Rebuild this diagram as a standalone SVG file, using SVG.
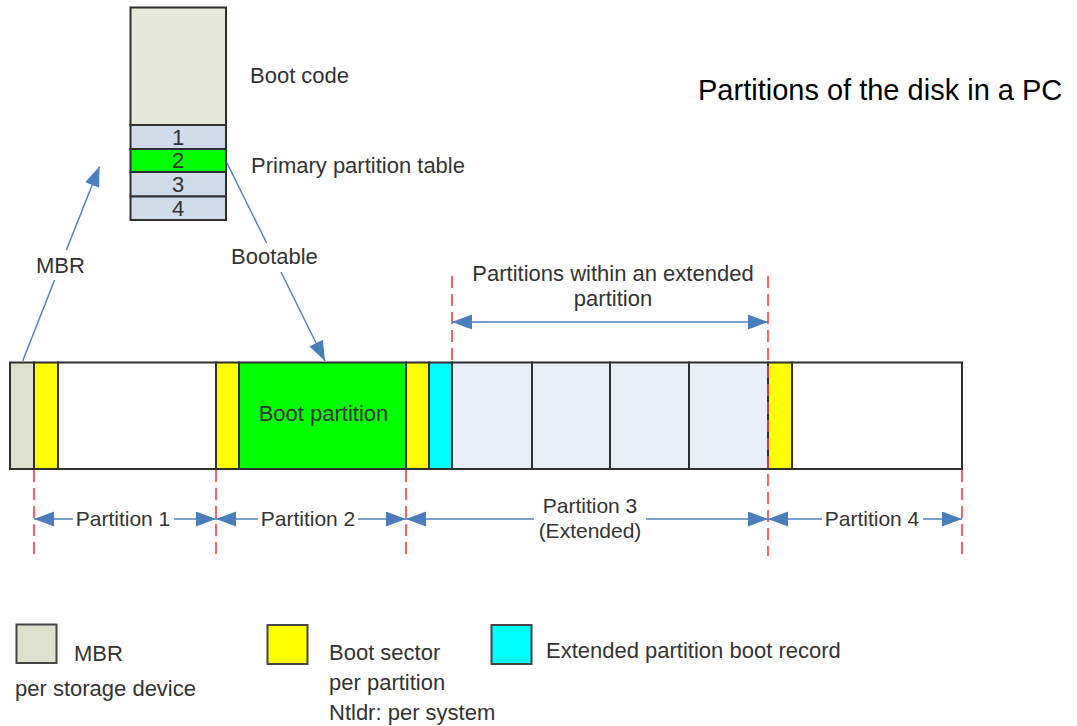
<svg xmlns="http://www.w3.org/2000/svg" width="1077" height="726" viewBox="0 0 1077 726">
<style>
text{font-family:"Liberation Sans",Arial,sans-serif;fill:#333;font-size:22px}
.t{font-size:29px;fill:#000}
.p{font-size:21px}
.c{text-anchor:middle}
.seg{stroke:#2f2f2f;stroke-width:2}
.leg{stroke:#444;stroke-width:2}
.con{stroke:#4F81BD;stroke-width:1.5;fill:none}
.dash{stroke:#FF3B3B;stroke-width:1.6;stroke-dasharray:12 6;fill:none}
.mbr{fill:#DDE0CB}.boot{fill:#FFFF00}.grn{fill:#00FF00}.cyan{fill:#00FFFF}.ext{fill:#E9EFF7}.wht{fill:#FFFFFF}.row{fill:#CFDAEA}
</style>
<defs>
<marker id="ah" markerUnits="userSpaceOnUse" markerWidth="22" markerHeight="16" refX="20" refY="7.5" orient="auto-start-reverse" viewBox="0 0 22 16">
<path d="M0,0 L20,7.5 L0,15 z" fill="#4A7EBB"/>
</marker>
</defs>
<rect width="1077" height="726" fill="#fff"/>

<text class="t" x="698" y="100">Partitions of the disk in a PC</text>

<g id="mbr-detail">
<rect class="seg" x="130.5" y="7.5" width="95.5" height="117.5" fill="#E6E9DA"/>
<rect class="seg row" x="130.5" y="125" width="95.5" height="24"/>
<rect class="seg grn" x="130.5" y="149" width="95.5" height="23"/>
<rect class="seg row" x="130.5" y="172" width="95.5" height="24.5"/>
<rect class="seg row" x="130.5" y="196.5" width="95.5" height="23.5"/>
<text class="c" x="178" y="145" font-size="20">1</text>
<text class="c" x="178" y="168" font-size="20">2</text>
<text class="c" x="178" y="192" font-size="20">3</text>
<text class="c" x="178" y="216" font-size="20">4</text>
<text x="250" y="83">Boot code</text>
<text x="251" y="173">Primary partition table</text>
</g>

<g id="disk">
<rect class="seg mbr" x="10" y="362.5" width="24" height="106.5"/>
<rect class="seg boot" x="34" y="362.5" width="24" height="106.5"/>
<rect class="seg wht" x="58" y="362.5" width="158" height="106.5"/>
<rect class="seg boot" x="216" y="362.5" width="23" height="106.5"/>
<rect class="seg grn" x="239" y="362.5" width="167" height="106.5"/>
<rect class="seg boot" x="406" y="362.5" width="23" height="106.5"/>
<rect class="seg cyan" x="429" y="362.5" width="23" height="106.5"/>
<rect class="seg ext" x="452" y="362.5" width="80" height="106.5"/>
<rect class="seg ext" x="532" y="362.5" width="78" height="106.5"/>
<rect class="seg ext" x="610" y="362.5" width="79" height="106.5"/>
<rect class="seg ext" x="689" y="362.5" width="79" height="106.5"/>
<rect class="seg boot" x="768" y="362.5" width="24" height="106.5"/>
<rect class="seg wht" x="792" y="362.5" width="170" height="106.5"/>
<text class="c" x="323.5" y="421">Boot partition</text>
</g>

<g id="guides">
<line class="dash" x1="34" y1="470" x2="34" y2="556"/>
<line class="dash" x1="216" y1="470" x2="216" y2="556"/>
<line class="dash" x1="406" y1="470" x2="406" y2="556"/>
<line class="dash" x1="768" y1="276" x2="768" y2="556"/>
<line class="dash" x1="452" y1="276" x2="452" y2="362"/>
<line class="dash" x1="962" y1="470" x2="962" y2="556"/>
</g>

<g id="connectors">
<line class="con" x1="22.7" y1="361" x2="54.6" y2="280"/>
<line class="con" x1="66.4" y1="250" x2="99.5" y2="166.5" marker-end="url(#ah)"/>
<line class="con" x1="226.5" y1="162" x2="266.6" y2="243"/>
<line class="con" x1="281" y1="272" x2="325" y2="361" marker-end="url(#ah)"/>
<line class="con" x1="34" y1="519" x2="73" y2="519" marker-start="url(#ah)"/>
<line class="con" x1="174" y1="519" x2="216" y2="519" marker-end="url(#ah)"/>
<line class="con" x1="216" y1="519" x2="258" y2="519" marker-start="url(#ah)"/>
<line class="con" x1="358" y1="519" x2="406" y2="519" marker-end="url(#ah)"/>
<line class="con" x1="406" y1="519" x2="534" y2="519" marker-start="url(#ah)"/>
<line class="con" x1="646" y1="519" x2="768" y2="519" marker-end="url(#ah)"/>
<line class="con" x1="768" y1="519" x2="822" y2="519" marker-start="url(#ah)"/>
<line class="con" x1="923" y1="519" x2="962" y2="519" marker-end="url(#ah)"/>
<line class="con" x1="452" y1="322" x2="768" y2="322" marker-start="url(#ah)" marker-end="url(#ah)"/>
</g>

<g id="labels">
<text x="36" y="273">MBR</text>
<text x="231" y="264">Bootable</text>
<text class="p c" x="123" y="526">Partition 1</text>
<text class="p c" x="308" y="526">Partition 2</text>
<text class="p c" x="590" y="513">Partition 3</text>
<text class="p c" x="590" y="538">(Extended)</text>
<text class="p c" x="872" y="526">Partition 4</text>
<text class="c" x="613" y="281">Partitions within an extended</text>
<text class="c" x="613" y="306">partition</text>
</g>

<g id="legend">
<g id="legend-mbr">
<rect class="leg mbr" x="16.5" y="624.5" width="40" height="38.5"/>
<text x="74" y="661">MBR</text>
<text x="15" y="696">per storage device</text>
</g>
<g id="legend-boot">
<rect class="leg boot" x="267.5" y="625" width="40" height="39"/>
<text x="329" y="660">Boot sector</text>
<text x="329" y="690">per partition</text>
<text x="329" y="720">Ntldr: per system</text>
</g>
<g id="legend-ext">
<rect class="leg cyan" x="491.5" y="625" width="40" height="39"/>
<text x="546" y="658">Extended partition boot record</text>
</g>
</g>
</svg>
